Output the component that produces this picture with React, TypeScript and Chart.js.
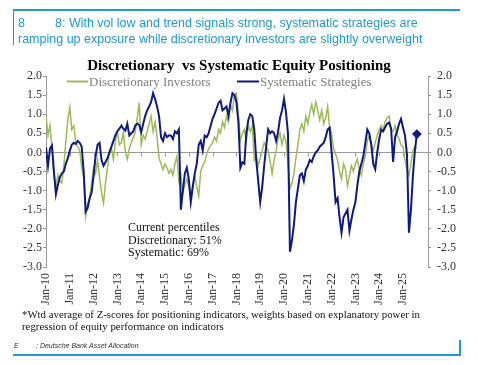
import React, { useEffect, useRef } from "react";
import { Chart, registerables } from "chart.js";

Chart.register(...registerables);

// ---- data (monthly, Jan 2010 .. Aug 2025) ----
const START_YEAR = 2010;

const systematic: number[] = [
  // 2010
  0.13, -0.35, 0.1, 0.18, -0.5, -1.1, -0.85, -0.65, -0.55, -0.5, -0.3, -0.15,
  // 2011
  0.04, 0.2, 0.25, 0.22, 0.3, 0.25, 0.15, -0.5, -1.55, -1.45, -1.2, -1.05,
  // 2012
  -0.6, -0.1, 0.2, 0.25, -0.2, -0.35, -0.25, -0.15, 0.0, 0.15, 0.3, 0.45,
  // 2013
  0.55, 0.62, 0.7, 0.62, 0.57, 0.75, 0.44, 0.5, 0.55, 0.7, 0.75, 0.72,
  // 2014
  0.53, 0.75, 0.95, 1.1, 1.2, 1.32, 1.55, 1.4, 1.2, 0.95, 0.4, 0.3,
  // 2015
  0.5, 0.4, 0.45, 0.44, 0.35, 0.55, 0.5, 0.6, -1.5, -1.0, -0.55, -0.4,
  // 2016
  -0.7, -1.3, -0.9, -0.55, -0.3, 0.2, 0.3, 0.05, 0.44, 0.4, 0.5, 0.7,
  // 2017
  0.88, 1.0, 1.15, 1.3, 1.35, 1.1, 1.15, 1.2, 0.95, 1.3, 1.55, 1.5,
  // 2018
  1.32, 0.8, -0.4, -0.26, -0.3, 0.5, 0.85, 1.0, 0.95, 0.6, -0.2, -0.75,
  // 2019
  -1.3, -0.9, -0.35, 0.15, 0.6, 0.5, 0.55, 0.5, 0.3, 0.53, 0.9, 1.1,
  // 2020
  1.4, 1.05, 0.5, -2.6, -2.3, -1.9, -1.3, -0.95, -0.6, -0.55, -0.75, -0.45,
  // 2021
  -0.35, -0.2, -0.25, -0.1, 0.0, 0.05, 0.15, 0.2, 0.25, 0.4, 0.6, 0.65,
  // 2022
  0.0, -0.6, -1.3, -1.2, -1.7, -2.1, -1.7, -1.6, -1.5, -2.05, -1.75, -1.5,
  // 2023
  -1.3, -0.85, -0.5, -0.3, -0.1, 0.25, 0.6, 0.5, 0.2, -0.3, -0.44, 0.0,
  // 2024
  0.35, 0.6, 0.55, 0.66, 0.75, 0.78, 0.62, -0.25, 0.4, 0.55, 0.75, 0.88,
  // 2025
  0.65, 0.44, -0.05, -2.1, -1.5, -0.6, 0.05, 0.48,
];

const discretionary: number[] = [
  // 2010
  0.95, 0.45, 0.7, 0.1, -0.6, -0.88, -0.6, -0.75, -0.8, -0.35, 0.3, 0.85,
  // 2011
  1.18, 0.6, 0.7, 0.26, 0.15, 0.05, -0.4, -0.65, -1.67, -1.35, -1.2, -0.8,
  // 2012
  -0.4, -0.55, -0.2, -0.65, -1.05, -1.32, -0.8, -0.4, 0.05, 0.1, -0.18, 0.3,
  // 2013
  0.53, 0.2, 0.25, 0.53, 0.0, -0.18, 0.1, 0.26, 0.4, 0.53, 0.9, 1.3,
  // 2014
  0.2, 0.45, 0.35, 0.55, 0.75, 0.95, 0.55, 0.8, 0.4, -0.15, -0.3, -0.45,
  // 2015
  -0.3, -0.4, -0.55, -0.45, -0.6, -0.3, -0.1, -0.75, -0.6, -1.05, -0.85, -0.7,
  // 2016
  -0.9, -1.14, -0.85, -0.6, -0.9, -1.14, -0.5, -0.35, -0.25, -0.05, 0.1, 0.18,
  // 2017
  0.25, 0.4, 0.3, 0.6, 0.5, 0.8, 0.65, 0.95, 0.8, 1.25, 1.1, 1.5,
  // 2018
  1.55, 1.0, 0.3, 0.5, 0.6, 0.3, 0.7, 0.55, 0.7, -0.2, -0.1, -0.35,
  // 2019
  -0.15, 0.05, 0.25, 0.15, 0.05, -0.25, -0.55, -0.2, 0.05, 0.35, 0.5, 0.2,
  // 2020
  0.45, 0.3, -0.3, -0.95, -0.8, -0.55, -0.15, 0.2, 0.6, 0.75, 0.55, 0.95,
  // 2021
  0.75, 1.05, 1.25, 1.0, 1.32, 1.1, 0.85, 1.1, 0.75, 0.9, 1.2, 0.65,
  // 2022
  0.5, 0.1, -0.05, -0.2, -0.5, -0.7, -0.3, -0.45, -0.88, -0.6, -0.35, -0.5,
  // 2023
  -0.3, -0.18, -0.45, -0.6, -0.3, -0.1, 0.3, 0.44, 0.2, 0.05, 0.25, 0.45,
  // 2024
  0.6, 0.7, 0.6, 0.8, 0.9, 0.95, 0.6, 0.55, 0.7, 0.45, 0.35, 0.2,
  // 2025
  0.15, -0.2, -0.45, -0.6, -0.3, 0.05, 0.15, 0.1,
];

const tickYears: number[] = [
  2010, 2011, 2012, 2013, 2014, 2015, 2016, 2017, 2018, 2019, 2020, 2021, 2022,
  2023, 2024, 2025,
];
const Y_MIN = -3;
const Y_MAX = 2;
const Y_STEP = 0.5;
const X_MIN = 2010;
const X_MAX = 2026.05;

const chartTitle = "Discretionary  vs Systematic Equity Positioning";
const seriesNames = ["Systematic Strategies", "Discretionary Investors"];
const noteLines = ["Current percentiles", "Discretionary: 51%", "Systematic: 69%"];
const headerLine1 = "8: With vol low and trend signals strong, systematic strategies are";
const headerLine2 =
  "ramping up exposure while discretionary investors are slightly overweight";
const footnote1 =
  "*Wtd average of Z-scores for positioning indicators, weights based on explanatory power in";
const footnote2 = "regression of equity performance on indicators";
const sourceText = ": Deutsche Bank Asset Allocation";

const NAVY = "#0f1a7e";
const GREEN = "#9bbb59";
const AXIS = "#9a9a9a";
const BLUE = "#1e9ad6";
const SERIF = '"Liberation Serif", "Times New Roman", serif';

const toPoints = (vals: number[]) =>
  vals.map((v, i) => ({ x: START_YEAR + i / 12, y: v }));

const decorPlugin = {
  id: "decor",
  beforeDatasetsDraw(chart: any) {
    const { ctx, chartArea, scales } = chart;
    const yy = Math.round(scales.y.getPixelForValue(0)) + 0.5;
    ctx.save();
    ctx.strokeStyle = AXIS;
    ctx.lineWidth = 1;
    ctx.beginPath();
    ctx.moveTo(chartArea.left, yy);
    ctx.lineTo(chartArea.right, yy);
    tickYears.forEach((yr) => {
      const x = Math.round(scales.x.getPixelForValue(yr)) + 0.5;
      ctx.moveTo(x, yy);
      ctx.lineTo(x, yy + 4);
    });
    ctx.stroke();
    ctx.restore();
  },
  afterDraw(chart: any) {
    const { ctx } = chart;
    ctx.save();
    // title
    ctx.fillStyle = "#000";
    ctx.font = `bold 15px ${SERIF}`;
    ctx.textAlign = "center";
    ctx.textBaseline = "alphabetic";
    ctx.fillText(chartTitle, 239, 70);
    // legend
    ctx.font = `13px ${SERIF}`;
    ctx.textAlign = "left";
    ctx.fillStyle = "#7f7f7f";
    ctx.lineWidth = 2;
    ctx.strokeStyle = GREEN;
    ctx.beginPath();
    ctx.moveTo(67, 81.5);
    ctx.lineTo(88, 81.5);
    ctx.stroke();
    ctx.fillText(seriesNames[1], 89, 86);
    ctx.strokeStyle = NAVY;
    ctx.beginPath();
    ctx.moveTo(237, 81.5);
    ctx.lineTo(259, 81.5);
    ctx.stroke();
    ctx.fillText(seriesNames[0], 260, 86);
    // note
    ctx.fillStyle = "#111";
    ctx.font = `12px ${SERIF}`;
    noteLines.forEach((t, i) => ctx.fillText(t, 128, 231 + i * 12.5));
    ctx.restore();
  },
};

function ChartCanvas() {
  const ref = useRef<HTMLCanvasElement | null>(null);
  useEffect(() => {
    if (!ref.current) return;
    const yTickOpts = (pad: number) => ({
      min: Y_MIN,
      max: Y_MAX,
      border: { display: true, color: AXIS, width: 1 },
      grid: {
        display: true,
        drawOnChartArea: false,
        drawTicks: true,
        tickLength: 3,
        color: AXIS,
      },
      ticks: {
        stepSize: Y_STEP,
        padding: pad,
        color: "#333",
        font: { family: SERIF, size: 12 },
        callback: (v: any) => Number(v).toFixed(1),
      },
    });
    const chart = new Chart(ref.current, {
      type: "line",
      data: {
        datasets: [
          {
            label: seriesNames[0],
            data: toPoints(systematic),
            borderColor: NAVY,
            backgroundColor: NAVY,
            borderWidth: 2,
            pointRadius: (c: any) => (c.dataIndex === systematic.length - 1 ? 3.5 : 0),
            pointStyle: "rectRot",
            tension: 0,
          },
          {
            label: seriesNames[1],
            data: toPoints(discretionary),
            borderColor: GREEN,
            backgroundColor: GREEN,
            borderWidth: 1.5,
            pointRadius: 0,
            tension: 0,
          },
        ],
      },
      options: {
        animation: false,
        responsive: false,
        maintainAspectRatio: false,
        layout: { padding: { left: 6, right: 10, top: 76, bottom: 58 } },
        plugins: { legend: { display: false }, title: { display: false }, tooltip: { enabled: false } },
        scales: {
          x: {
            type: "linear",
            min: X_MIN,
            max: X_MAX,
            border: { display: false },
            grid: { display: false, drawTicks: false },
            afterBuildTicks: (s: any) => {
              s.ticks = tickYears.map((v) => ({ value: v }));
            },
            afterFit: (s: any) => {
              s.height = 40;
            },
            ticks: {
              autoSkip: false,
              maxRotation: 90,
              minRotation: 90,
              padding: 6,
              color: "#333",
              font: { family: SERIF, size: 12 },
              callback: (v: any) => "Jan-" + String(Math.round(Number(v)) % 100).padStart(2, "0"),
            },
          },
          y: {
            position: "left",
            ...yTickOpts(1),
            afterFit: (s: any) => {
              s.width = 40;
            },
          },
          y2: {
            position: "right",
            ...yTickOpts(6),
            afterFit: (s: any) => {
              s.width = 40;
            },
          },
        },
      } as any,
      plugins: [decorPlugin],
    });
    return () => chart.destroy();
  }, []);
  return (
    <canvas
      ref={ref}
      width={478}
      height={365}
      style={{ position: "absolute", left: 0, top: 0, width: 478, height: 365 }}
    />
  );
}

export default function App() {
  const sans = '"Liberation Sans", Arial, sans-serif';
  const rule = (left: number, top: number, width: number, height: number) => (
    <div style={{ position: "absolute", left, top, width, height, background: BLUE }} />
  );
  return (
    <div
      style={{
        position: "fixed",
        left: 0,
        top: 0,
        width: 478,
        height: 365,
        background: "#fff",
        overflow: "hidden",
      }}
    >
      <ChartCanvas />
      {/* header frame */}
      {rule(13, 9, 447, 2)}
      {rule(13, 9, 1, 36)}
      <div
        style={{
          position: "absolute",
          left: 18,
          top: 15,
          fontFamily: sans,
          fontSize: 12.5,
          lineHeight: "16px",
          color: BLUE,
          whiteSpace: "nowrap",
        }}
      >
        <div>
          <span style={{ display: "inline-block", width: 37 }}>8</span>
          {headerLine1}
        </div>
        <div>{headerLine2}</div>
      </div>
      {/* footnote */}
      <div
        style={{
          position: "absolute",
          left: 22,
          top: 308,
          fontFamily: SERIF,
          fontSize: 10.8,
          lineHeight: "12px",
          color: "#111",
          whiteSpace: "nowrap",
        }}
      >
        <div>{footnote1}</div>
        <div>{footnote2}</div>
      </div>
      {/* source */}
      <div
        style={{
          position: "absolute",
          left: 14,
          top: 341,
          fontFamily: sans,
          fontStyle: "italic",
          fontSize: 7,
          lineHeight: "9px",
          color: "#333",
          whiteSpace: "nowrap",
        }}
      >
        <span style={{ display: "inline-block", width: 22 }}>E</span>
        {sourceText}
      </div>
      {rule(13, 354, 447, 2)}
      {rule(459, 340, 1.5, 16)}
    </div>
  );
}
